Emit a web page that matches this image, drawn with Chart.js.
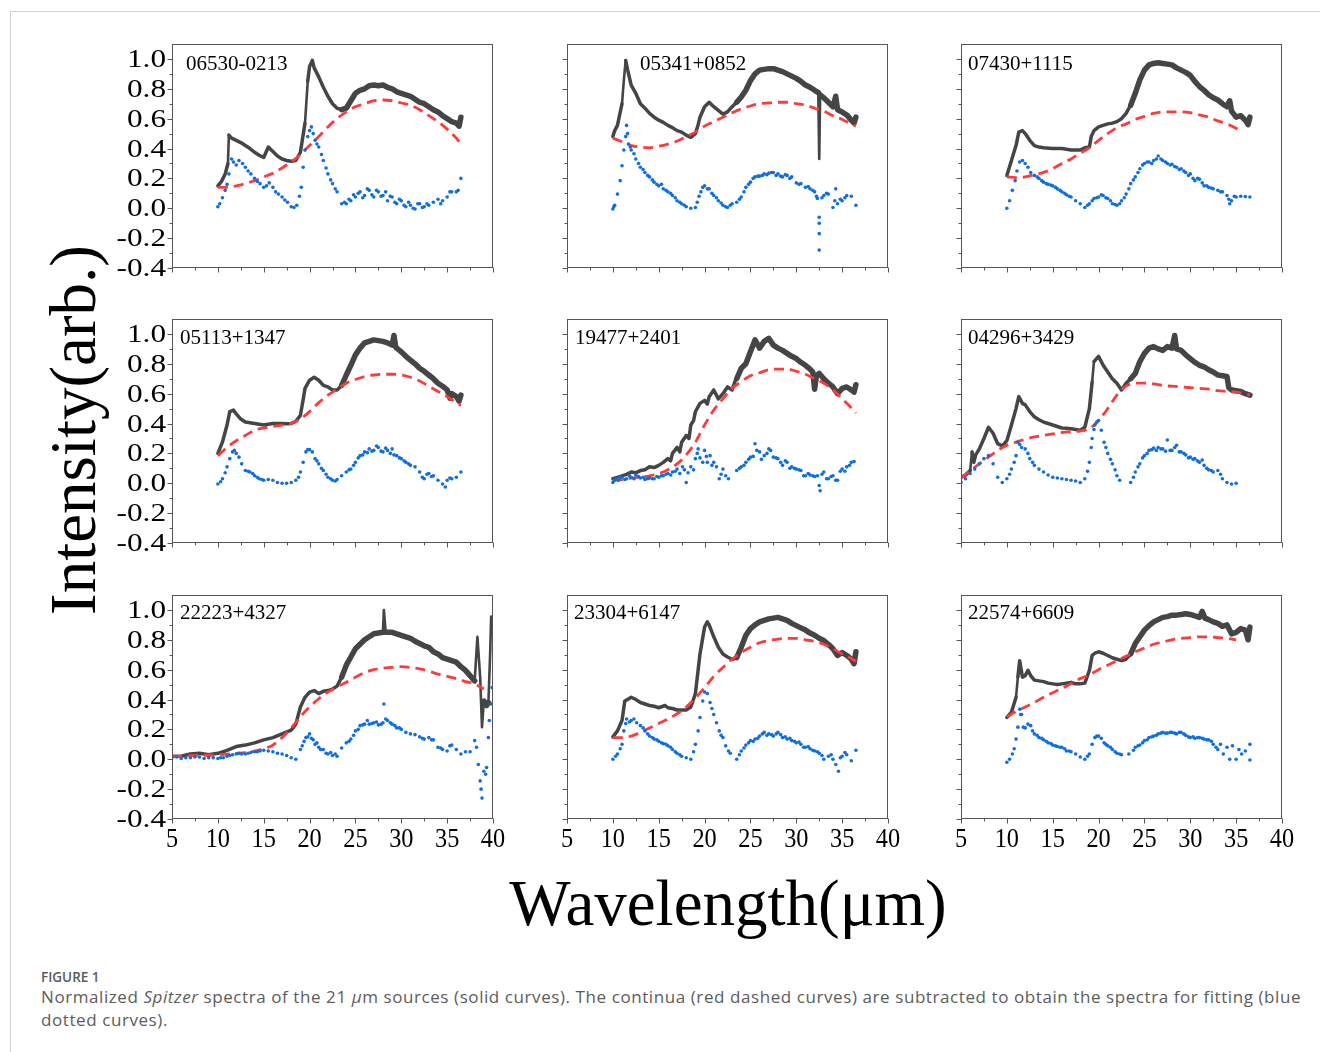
<!DOCTYPE html>
<html>
<head>
<meta charset="utf-8">
<script src="https://cdn.jsdelivr.net/npm/chart.js@4/dist/chart.umd.min.js"></script>
<style>
  html, body { margin:0; padding:0; background:#fff; }
  body { width:1320px; height:1052px; position:relative; overflow:hidden; }
  #frame { position:absolute; left:10px; top:11px; width:1320px; height:1060px; border-top:1px solid #cfcfcf; border-left:1px solid #cfcfcf; }
  canvas { position:absolute; }
  .serif { font-family:"Times New Roman","Liberation Serif",serif; color:#000; white-space:nowrap; position:absolute; }
  #ytitle { font-size:65px; line-height:65px; left:73px; top:430px; transform:translate(-50%,-50%) rotate(-90deg); }
  #xtitle { font-size:65px; line-height:64px; left:728px; top:871px; transform:translateX(-50%); }
  #figlabel { position:absolute; left:41px; top:968px; font-family:"Open Sans","Noto Sans",sans-serif; font-weight:600; font-size:13.5px; color:#5a5a5a; }
  #caption { position:absolute; left:41px; top:985px; width:1278px; font-family:"Open Sans","Noto Sans",sans-serif; font-size:17px; letter-spacing:0.58px; line-height:23px; color:#5c5c5c; white-space:nowrap; }
</style>
</head>
<body>
<div id="frame"></div>
<div id="ytitle" class="serif">Intensity(arb.)</div>
<div id="xtitle" class="serif">Wavelength(μm)</div>
<div id="figlabel">FIGURE 1</div>
<div id="caption">Normalized <i>Spitzer</i> spectra of the 21 <i>μ</i>m sources (solid curves). The continua (red dashed curves) are subtracted to obtain the spectra for fitting (blue<br>dotted curves).</div>
<script>
// ---------------- data ----------------
const panelNames = ['06530-0213','05341+0852','07430+1115','05113+1347','19477+2401','04296+3429','22223+4327','23304+6147','22574+6609'];
const xTicks = [5,10,15,20,25,30,35,40];
const yTicks = [-0.4,-0.2,0.0,0.2,0.4,0.6,0.8,1.0];

// 06530-0213
const p1Solid = [[10,0.15],[10.4,0.18],[10.8,0.23],[11.1,0.30],[11.2,0.49],[11.5,0.47],[12,0.455],[12.5,0.44],[13,0.42],[13.5,0.40],[14,0.375],[14.5,0.355],[15,0.34],[15.5,0.41],[16,0.38],[16.5,0.35],[17,0.33],[17.5,0.32],[18,0.315],[18.5,0.32],[19,0.375],[19.5,0.57],[19.8,0.85],[20,0.95],[20.3,0.99],[20.5,0.94],[21,0.88],[21.5,0.81],[22,0.75],[22.5,0.70],[23,0.67],[23.5,0.66],[24,0.67],[24.5,0.72],[25,0.77],[25.5,0.79],[26,0.80],[26.5,0.82],[27,0.825],[27.5,0.82],[28,0.825],[28.5,0.81],[29,0.80],[29.5,0.78],[30,0.77],[30.5,0.76],[31,0.75],[31.5,0.73],[32,0.71],[32.5,0.70],[33,0.68],[33.5,0.66],[34,0.645],[34.5,0.62],[35,0.60],[35.5,0.58],[36,0.57],[36.3,0.55],[36.5,0.61]];
const p1Dashed = [[10,0.14],[11,0.14],[12,0.15],[13,0.165],[14,0.185],[15,0.21],[16,0.235],[17,0.27],[18,0.31],[19,0.36],[20,0.42],[21,0.48],[22,0.545],[23,0.60],[24,0.645],[25,0.68],[26,0.70],[27,0.72],[28,0.725],[29,0.72],[30,0.705],[31,0.69],[32,0.66],[33,0.62],[34,0.58],[35,0.53],[36,0.47],[36.5,0.43]];
const p1Dotted = [[10,0.01],[10.2,0.03],[10.5,0.07],[10.8,0.12],[11,0.16],[11.2,0.23],[11.5,0.33],[11.7,0.31],[12,0.29],[12.3,0.32],[12.7,0.30],[13,0.275],[13.3,0.25],[13.6,0.23],[14,0.20],[14.3,0.18],[14.6,0.165],[15,0.14],[15.3,0.15],[15.6,0.17],[16,0.14],[16.3,0.11],[16.6,0.095],[17,0.075],[17.3,0.055],[17.6,0.04],[18,0.01],[18.3,0.005],[18.6,0.02],[18.9,0.08],[19.1,0.14],[19.3,0.275],[19.5,0.39],[19.8,0.48],[20,0.52],[20.2,0.545],[20.4,0.50],[20.6,0.455],[20.8,0.43],[21,0.41],[21.3,0.36],[21.5,0.32],[21.8,0.27],[22,0.23],[22.3,0.19],[22.5,0.165],[22.8,0.13],[23,0.11],[23.5,0.03],[23.8,0.04],[24,0.03],[24.3,0.06],[24.5,0.05],[24.8,0.09],[25,0.075],[25.3,0.10],[25.5,0.11],[25.8,0.07],[26,0.085],[26.3,0.13],[26.5,0.12],[26.8,0.09],[27,0.075],[27.3,0.12],[27.5,0.11],[27.8,0.08],[28,0.085],[28.3,0.11],[28.5,0.05],[28.8,0.08],[29,0.075],[29.3,0.04],[29.5,0.03],[29.8,0.06],[30,0.05],[30.3,0.02],[30.5,0.01],[30.8,0.04],[31,0.02],[31.3,0.0],[31.5,-0.005],[31.8,0.03],[32,0.03],[32.3,0.005],[32.5,0.01],[32.8,0.03],[33,0.02],[33.5,0.04],[34,0.06],[34.3,0.03],[34.5,0.05],[35,0.075],[35.3,0.11],[35.5,0.11],[36,0.11],[36.2,0.12],[36.5,0.20]];

// 05341+0852
const p2Solid = [[10,0.48],[10.2,0.52],[10.5,0.555],[11,0.70],[11.2,0.86],[11.4,0.99],[11.6,0.93],[12,0.825],[12.5,0.77],[13,0.70],[13.5,0.67],[14,0.635],[14.5,0.61],[15,0.59],[15.5,0.575],[16,0.555],[16.5,0.54],[17,0.52],[17.5,0.51],[18,0.49],[18.5,0.475],[19,0.50],[19.3,0.56],[19.5,0.61],[20,0.68],[20.5,0.71],[21,0.68],[21.5,0.655],[22,0.63],[22.5,0.645],[23,0.68],[23.5,0.71],[24,0.745],[24.5,0.79],[25,0.855],[25.5,0.90],[26,0.925],[26.5,0.93],[27,0.935],[27.5,0.935],[28,0.925],[28.5,0.915],[29,0.90],[29.5,0.885],[30,0.87],[30.5,0.85],[31,0.825],[31.5,0.81],[32,0.79],[32.4,0.775],[32.5,0.33],[32.6,0.76],[33,0.74],[33.5,0.71],[34,0.68],[34.3,0.75],[34.5,0.66],[35,0.645],[35.5,0.625],[36,0.59],[36.3,0.57],[36.5,0.61]];
const p2Dashed = [[10,0.47],[11,0.445],[12,0.42],[13,0.41],[14,0.405],[15,0.415],[16,0.43],[17,0.45],[18,0.48],[19,0.51],[20,0.55],[21,0.58],[22,0.61],[23,0.64],[24,0.665],[25,0.685],[26,0.70],[27,0.705],[28,0.71],[29,0.71],[30,0.70],[31,0.69],[32,0.67],[33,0.65],[34,0.62],[35,0.595],[36,0.565],[36.5,0.55]];
const p2Dotted = [[10,-0.005],[10.1,0.01],[10.2,0.02],[10.5,0.095],[10.8,0.185],[11,0.285],[11.2,0.39],[11.4,0.48],[11.5,0.555],[11.6,0.50],[11.7,0.43],[11.9,0.41],[12,0.39],[12.3,0.365],[12.5,0.33],[12.8,0.30],[13,0.275],[13.3,0.26],[13.5,0.24],[13.8,0.22],[14,0.21],[14.3,0.19],[14.5,0.175],[14.8,0.16],[15,0.15],[15.3,0.16],[15.5,0.13],[15.8,0.12],[16,0.11],[16.3,0.10],[16.5,0.085],[16.8,0.07],[17,0.05],[17.3,0.04],[17.5,0.03],[17.8,0.02],[18,0.01],[18.5,0.0],[19,0.005],[19.2,0.04],[19.4,0.08],[19.6,0.11],[19.8,0.14],[20,0.15],[20.3,0.13],[20.5,0.13],[20.8,0.10],[21,0.085],[21.3,0.07],[21.5,0.05],[21.8,0.035],[22,0.02],[22.3,0.01],[22.5,0.005],[22.8,0.02],[23,0.03],[23.5,0.04],[23.8,0.06],[24,0.075],[24.3,0.11],[24.5,0.14],[24.8,0.16],[25,0.175],[25.3,0.20],[25.5,0.21],[25.8,0.215],[26,0.215],[26.3,0.22],[26.5,0.23],[26.8,0.225],[27,0.235],[27.3,0.24],[27.5,0.24],[27.8,0.22],[28,0.23],[28.3,0.215],[28.5,0.21],[28.8,0.225],[29,0.22],[29.3,0.20],[29.5,0.21],[30,0.17],[30.3,0.16],[30.5,0.165],[31,0.14],[31.3,0.145],[31.5,0.13],[31.8,0.12],[32,0.11],[32.2,0.08],[32.3,0.065],[32.5,-0.06],[32.5,-0.10],[32.5,-0.17],[32.5,-0.28],[32.8,0.07],[33,0.085],[33.3,0.10],[33.5,0.095],[34,0.005],[34.2,0.05],[34.3,0.13],[34.5,0.03],[34.8,0.06],[35,0.05],[35.3,0.07],[35.5,0.085],[36,0.08],[36.5,0.02]];

// 07430+1115
const p3Solid = [[10,0.22],[10.5,0.32],[11,0.42],[11.3,0.51],[11.7,0.52],[12,0.50],[12.5,0.455],[13,0.42],[13.5,0.41],[14,0.405],[15,0.40],[16,0.40],[17,0.39],[18,0.39],[18.5,0.405],[19,0.41],[19.2,0.48],[19.5,0.52],[20,0.545],[20.5,0.555],[21,0.565],[21.5,0.57],[22,0.58],[22.5,0.60],[23,0.635],[23.5,0.69],[24,0.77],[24.5,0.86],[25,0.925],[25.5,0.96],[26,0.97],[26.5,0.975],[27,0.97],[27.5,0.965],[28,0.96],[28.5,0.94],[29,0.925],[29.5,0.91],[30,0.89],[30.5,0.85],[31,0.815],[31.5,0.79],[32,0.76],[32.5,0.74],[33,0.725],[33.5,0.70],[34,0.68],[34.3,0.72],[34.5,0.65],[35,0.61],[35.5,0.62],[36,0.59],[36.3,0.56],[36.5,0.61]];
const p3Dashed = [[10,0.21],[11,0.205],[12,0.21],[13,0.225],[14,0.24],[15,0.265],[16,0.30],[17,0.33],[18,0.37],[19,0.405],[20,0.455],[21,0.50],[22,0.54],[23,0.565],[24,0.595],[25,0.615],[26,0.635],[27,0.645],[28,0.645],[29,0.645],[30,0.64],[31,0.625],[32,0.61],[33,0.585],[34,0.565],[35,0.535],[35.5,0.52]];
const p3Dotted = [[10,0.0],[10.3,0.05],[10.6,0.12],[10.9,0.185],[11.1,0.25],[11.4,0.31],[11.7,0.32],[12,0.30],[12.3,0.275],[12.6,0.24],[13,0.22],[13.3,0.21],[13.5,0.20],[13.8,0.185],[14,0.175],[14.3,0.165],[14.5,0.16],[14.8,0.155],[15,0.15],[15.3,0.14],[15.5,0.13],[15.8,0.12],[16,0.11],[16.3,0.10],[16.5,0.09],[16.8,0.08],[17,0.075],[17.5,0.05],[18,0.03],[18.5,0.005],[18.8,0.02],[19,0.03],[19.3,0.05],[19.5,0.065],[19.8,0.07],[20,0.075],[20.3,0.09],[20.5,0.085],[20.8,0.07],[21,0.065],[21.3,0.05],[21.5,0.03],[21.8,0.025],[22,0.02],[22.3,0.03],[22.5,0.05],[22.8,0.07],[23,0.095],[23.3,0.13],[23.5,0.165],[23.8,0.19],[24,0.21],[24.3,0.24],[24.5,0.265],[24.8,0.29],[25,0.30],[25.3,0.31],[25.5,0.31],[25.8,0.30],[26,0.32],[26.3,0.33],[26.5,0.35],[26.8,0.33],[27,0.32],[27.3,0.31],[27.5,0.30],[27.8,0.29],[28,0.295],[28.3,0.28],[28.5,0.275],[28.8,0.26],[29,0.265],[29.3,0.25],[29.5,0.24],[29.8,0.22],[30,0.23],[30.3,0.20],[30.5,0.185],[30.8,0.20],[31,0.195],[31.3,0.17],[31.5,0.15],[31.8,0.15],[32,0.14],[32.3,0.135],[32.5,0.13],[33,0.12],[33.3,0.11],[33.5,0.11],[34,0.085],[34.2,0.06],[34.3,0.03],[34.5,0.05],[34.8,0.08],[35,0.075],[35.5,0.08],[36,0.078],[36.5,0.075]];

// 05113+1347
const p4Solid = [[10,0.20],[10.5,0.275],[11,0.39],[11.3,0.48],[11.7,0.49],[12,0.465],[12.5,0.43],[13,0.41],[13.5,0.405],[14,0.40],[14.5,0.395],[15,0.39],[15.5,0.395],[16,0.40],[16.5,0.40],[17,0.40],[17.5,0.398],[18,0.40],[18.5,0.415],[19,0.455],[19.3,0.56],[19.5,0.635],[20,0.69],[20.5,0.71],[21,0.69],[21.5,0.655],[22,0.645],[22.5,0.625],[23,0.625],[23.5,0.655],[24,0.725],[24.5,0.79],[25,0.86],[25.5,0.905],[26,0.94],[26.5,0.95],[27,0.96],[27.5,0.955],[28,0.95],[28.5,0.94],[29,0.925],[29.2,0.99],[29.4,0.91],[30,0.88],[30.5,0.85],[31,0.825],[31.5,0.80],[32,0.77],[32.5,0.75],[33,0.725],[33.5,0.70],[34,0.67],[34.5,0.65],[35,0.625],[35.3,0.57],[35.5,0.60],[36,0.58],[36.3,0.55],[36.5,0.59]];
const p4Dashed = [[10,0.185],[11,0.24],[12,0.285],[13,0.32],[14,0.355],[15,0.37],[16,0.38],[17,0.39],[18,0.40],[19,0.43],[20,0.48],[21,0.54],[22,0.59],[23,0.63],[24,0.67],[25,0.695],[26,0.715],[27,0.725],[28,0.73],[29,0.73],[30,0.725],[31,0.71],[32,0.685],[33,0.65],[34,0.615],[35,0.58],[36,0.54],[36.5,0.52]];
const p4Dotted = [[10,-0.005],[10.3,0.01],[10.5,0.03],[10.8,0.07],[11,0.11],[11.3,0.165],[11.6,0.21],[11.8,0.22],[12,0.20],[12.3,0.175],[12.6,0.13],[13,0.085],[13.3,0.08],[13.5,0.075],[13.8,0.065],[14,0.05],[14.3,0.04],[14.5,0.03],[14.8,0.025],[15,0.02],[15.5,0.025],[16,0.02],[16.5,0.005],[17,0.0],[17.5,0.0],[18,0.005],[18.5,0.02],[18.8,0.04],[19,0.075],[19.3,0.14],[19.6,0.21],[19.8,0.225],[20,0.225],[20.3,0.21],[20.6,0.165],[20.8,0.15],[21,0.13],[21.3,0.10],[21.5,0.085],[21.8,0.06],[22,0.04],[22.3,0.03],[22.5,0.02],[22.8,0.015],[23,0.025],[23.5,0.05],[24,0.075],[24.3,0.09],[24.5,0.095],[24.8,0.12],[25,0.14],[25.3,0.17],[25.5,0.185],[25.8,0.19],[26,0.21],[26.3,0.205],[26.5,0.23],[26.8,0.215],[27,0.22],[27.3,0.25],[27.5,0.24],[27.8,0.215],[28,0.21],[28.3,0.235],[28.5,0.22],[28.8,0.20],[29,0.23],[29.2,0.19],[29.5,0.185],[29.8,0.17],[30,0.165],[30.3,0.15],[30.5,0.14],[30.8,0.13],[31,0.12],[31.5,0.11],[32,0.075],[32.3,0.04],[32.5,0.03],[32.8,0.06],[33,0.065],[33.3,0.045],[33.5,0.05],[34,0.02],[34.5,-0.005],[34.8,-0.025],[35,0.02],[35.3,0.035],[35.5,0.03],[36,0.04],[36.5,0.075]];

// 19477+2401
const p5Solid = [[10,0.03],[10.5,0.04],[11,0.05],[11.5,0.06],[12,0.075],[12.5,0.07],[13,0.085],[13.5,0.09],[14,0.11],[14.5,0.105],[15,0.12],[15.5,0.14],[16,0.165],[16.3,0.15],[16.5,0.20],[17,0.24],[17.3,0.21],[17.5,0.275],[18,0.32],[18.3,0.30],[18.5,0.39],[18.8,0.42],[19,0.48],[19.5,0.535],[20,0.555],[20.3,0.53],[20.5,0.58],[21,0.625],[21.5,0.565],[22,0.60],[22.5,0.645],[23,0.625],[23.3,0.68],[23.5,0.70],[24,0.77],[24.5,0.80],[25,0.88],[25.5,0.96],[26,0.905],[26.5,0.95],[27,0.97],[27.5,0.925],[28,0.905],[28.5,0.89],[29,0.87],[29.5,0.85],[30,0.835],[30.5,0.81],[31,0.79],[31.5,0.765],[31.8,0.745],[32,0.63],[32.2,0.72],[32.5,0.735],[33,0.70],[33.5,0.67],[34,0.645],[34.5,0.60],[35,0.635],[35.5,0.645],[36,0.625],[36.3,0.61],[36.5,0.66]];
const p5Dashed = [[10,0.02],[11,0.025],[12,0.035],[13,0.04],[14,0.05],[15,0.065],[16,0.09],[17,0.13],[18,0.19],[19,0.275],[20,0.39],[21,0.49],[22,0.565],[23,0.635],[24,0.68],[25,0.72],[26,0.74],[27,0.76],[28,0.765],[29,0.765],[30,0.75],[31,0.73],[32,0.70],[33,0.67],[34,0.625],[35,0.565],[36,0.505],[36.5,0.47]];
const p5Dotted = [[10,0.005],[10.2,0.02],[10.4,0.03],[10.6,0.02],[10.8,0.04],[11,0.04],[11.3,0.025],[11.5,0.03],[11.8,0.05],[12,0.04],[12.3,0.03],[12.5,0.055],[12.8,0.045],[13,0.035],[13.3,0.04],[13.5,0.025],[13.8,0.03],[14,0.035],[14.3,0.03],[14.5,0.03],[14.8,0.045],[15,0.04],[15.3,0.05],[15.5,0.05],[15.8,0.06],[16,0.065],[16.3,0.055],[16.5,0.075],[16.8,0.08],[17,0.095],[17.3,0.065],[17.6,0.11],[17.8,0.09],[18,0.005],[18.2,0.07],[18.5,0.11],[18.8,0.09],[19,0.165],[19.2,0.20],[19.3,0.23],[19.5,0.17],[19.8,0.14],[20,0.22],[20.2,0.18],[20.3,0.14],[20.6,0.185],[20.8,0.12],[21,0.14],[21.3,0.11],[21.6,0.03],[21.8,0.06],[22,0.095],[22.3,0.05],[22.6,0.03],[23.5,0.085],[23.8,0.10],[24,0.11],[24.3,0.12],[24.5,0.14],[24.8,0.16],[25,0.175],[25.3,0.18],[25.5,0.265],[25.7,0.22],[26,0.21],[26.2,0.16],[26.5,0.185],[26.8,0.20],[27,0.23],[27.2,0.22],[27.5,0.175],[27.8,0.17],[28,0.165],[28.3,0.14],[28.5,0.12],[28.8,0.15],[29,0.14],[29.3,0.10],[29.5,0.11],[29.8,0.10],[30,0.095],[30.3,0.09],[30.5,0.085],[30.8,0.05],[31,0.05],[31.3,0.065],[31.5,0.055],[31.8,0.05],[32,0.045],[32.3,0.05],[32.5,-0.015],[32.6,-0.05],[32.8,0.06],[33,0.075],[33.3,0.03],[33.5,0.03],[33.8,0.045],[34,0.05],[34.3,0.02],[34.5,0.02],[34.8,0.08],[35,0.095],[35.3,0.08],[35.5,0.11],[35.8,0.12],[36,0.14],[36.3,0.145]];

// 04296+3429
const p6Solid = [[5,0.04],[5.5,0.055],[6,0.085],[6.2,0.21],[6.4,0.14],[6.6,0.19],[7,0.23],[7.5,0.30],[8,0.375],[8.5,0.335],[9,0.265],[9.5,0.25],[10,0.285],[10.5,0.39],[11,0.50],[11.3,0.58],[11.7,0.535],[12,0.525],[12.5,0.48],[13,0.445],[13.5,0.425],[14,0.41],[14.5,0.40],[15,0.39],[15.5,0.38],[16,0.37],[16.5,0.368],[17,0.365],[17.5,0.36],[18,0.355],[18.5,0.375],[19,0.50],[19.3,0.68],[19.5,0.815],[20,0.85],[20.5,0.79],[21,0.745],[21.5,0.70],[22,0.67],[22.5,0.625],[23,0.67],[23.5,0.70],[24,0.735],[24.5,0.815],[25,0.87],[25.5,0.905],[26,0.915],[26.5,0.90],[27,0.89],[27.5,0.915],[28,0.905],[28.3,0.99],[28.5,0.90],[29,0.89],[29.5,0.86],[30,0.835],[30.5,0.81],[31,0.79],[31.5,0.78],[32,0.76],[32.5,0.745],[33,0.725],[33.5,0.72],[34,0.715],[34.2,0.64],[34.5,0.625],[35,0.62],[35.5,0.615],[36,0.60],[36.5,0.59]];
const p6Dashed = [[5,0.035],[6,0.085],[7,0.13],[8,0.175],[9,0.22],[10,0.255],[11,0.275],[12,0.295],[13,0.31],[14,0.32],[15,0.33],[16,0.34],[17,0.345],[18,0.35],[19,0.365],[20,0.42],[21,0.50],[22,0.59],[23,0.65],[24,0.67],[25,0.67],[26,0.665],[27,0.655],[28,0.65],[29,0.645],[30,0.64],[31,0.635],[32,0.63],[33,0.62],[34,0.615],[35,0.61],[36,0.60],[36.5,0.59]];
const p6Dotted = [[5,0.005],[5.5,0.03],[6,0.065],[6.5,0.095],[7,0.13],[7.5,0.165],[8,0.185],[8.5,0.13],[9,0.04],[9.5,0.005],[10,0.03],[10.3,0.06],[10.5,0.095],[10.8,0.14],[11,0.185],[11.2,0.275],[11.4,0.26],[11.6,0.24],[12,0.23],[12.3,0.20],[12.5,0.165],[12.8,0.14],[13,0.12],[13.5,0.095],[14,0.075],[14.5,0.055],[15,0.04],[15.5,0.035],[16,0.03],[16.5,0.025],[17,0.02],[17.5,0.015],[18,0.005],[18.5,0.03],[18.8,0.08],[19,0.14],[19.2,0.24],[19.3,0.30],[19.5,0.36],[19.6,0.39],[19.8,0.41],[20,0.42],[20.3,0.355],[20.6,0.275],[20.8,0.24],[21,0.20],[21.3,0.16],[21.5,0.13],[21.8,0.09],[22,0.05],[22.3,0.02],[23.5,0.005],[23.8,0.04],[24,0.075],[24.3,0.11],[24.5,0.13],[24.8,0.17],[25,0.185],[25.3,0.20],[25.5,0.22],[25.8,0.225],[26,0.235],[26.3,0.22],[26.5,0.24],[26.8,0.23],[27,0.23],[27.3,0.215],[27.5,0.29],[27.8,0.22],[28,0.22],[28.3,0.24],[28.5,0.255],[28.8,0.21],[29,0.21],[29.3,0.20],[29.5,0.19],[29.8,0.17],[30,0.175],[30.3,0.16],[30.5,0.165],[30.8,0.15],[31,0.14],[31.3,0.155],[31.5,0.12],[31.8,0.10],[32,0.09],[32.3,0.085],[32.5,0.075],[33,0.085],[33.3,0.06],[33.5,0.03],[34,0.005],[34.5,-0.005],[35,0.0]];

// 22223+4327
const p7Solid = [[5,0.02],[6,0.02],[7,0.035],[8,0.04],[9,0.03],[10,0.04],[11,0.06],[12,0.085],[13,0.095],[14,0.11],[15,0.13],[16,0.145],[17,0.17],[18,0.195],[18.5,0.235],[19,0.35],[19.5,0.415],[20,0.45],[20.5,0.46],[21,0.44],[21.5,0.455],[22,0.46],[22.5,0.47],[23,0.49],[23.5,0.55],[24,0.63],[24.5,0.685],[25,0.74],[25.5,0.77],[26,0.80],[26.5,0.82],[27,0.84],[27.5,0.845],[28,0.85],[28.1,1.0],[28.3,0.85],[29,0.85],[29.5,0.84],[30,0.83],[30.5,0.82],[31,0.81],[31.5,0.79],[32,0.775],[32.5,0.76],[33,0.75],[33.5,0.72],[34,0.705],[34.5,0.68],[35,0.67],[35.5,0.66],[36,0.65],[36.5,0.62],[37,0.595],[37.5,0.56],[38,0.525],[38.3,0.82],[38.6,0.55],[38.8,0.215],[39,0.39],[39.3,0.36],[39.5,0.38],[39.7,0.73],[39.8,0.955]];
const p7Dashed = [[5,0.018],[6,0.02],[7,0.025],[8,0.027],[9,0.027],[10,0.03],[11,0.035],[12,0.04],[13,0.045],[14,0.055],[15,0.07],[16,0.095],[17,0.145],[18,0.21],[19,0.285],[20,0.35],[21,0.405],[22,0.45],[23,0.485],[24,0.515],[25,0.55],[26,0.58],[27,0.60],[28,0.61],[29,0.615],[30,0.62],[31,0.615],[32,0.605],[33,0.59],[34,0.57],[35,0.555],[36,0.54],[37,0.52],[38,0.505],[39,0.47]];
const p7Dotted = [[5,0.01],[5.5,0.015],[6,0.005],[6.5,0.01],[7,0.01],[7.5,0.015],[8,0.015],[8.5,0.005],[9,0.01],[9.5,0.01],[10,0.005],[10.3,0.01],[10.6,0.01],[11,0.02],[11.3,0.025],[11.6,0.03],[12,0.035],[12.3,0.04],[12.6,0.035],[13,0.035],[13.3,0.04],[13.6,0.045],[14,0.05],[14.3,0.05],[14.6,0.055],[15,0.06],[15.5,0.055],[16,0.05],[16.5,0.04],[17,0.035],[17.5,0.025],[18,0.01],[18.5,0.0],[19,0.065],[19.2,0.09],[19.4,0.12],[19.6,0.145],[19.8,0.15],[20,0.17],[20.2,0.14],[20.4,0.13],[20.6,0.10],[20.8,0.11],[21,0.08],[21.2,0.065],[21.5,0.065],[21.8,0.04],[22,0.035],[22.3,0.045],[22.5,0.025],[22.8,0.035],[23,0.02],[23.5,0.075],[24,0.11],[24.3,0.12],[24.5,0.135],[24.8,0.16],[25,0.19],[25.3,0.20],[25.5,0.225],[25.8,0.23],[26,0.235],[26.3,0.26],[26.5,0.235],[26.8,0.24],[27,0.245],[27.3,0.25],[27.5,0.23],[27.8,0.235],[28,0.245],[28.1,0.37],[28.3,0.27],[28.5,0.26],[28.8,0.245],[29,0.235],[29.3,0.225],[29.5,0.21],[29.8,0.21],[30,0.20],[30.5,0.18],[31,0.17],[31.5,0.165],[32,0.15],[32.3,0.14],[32.5,0.135],[33,0.145],[33.3,0.13],[33.5,0.13],[34,0.08],[34.3,0.075],[34.5,0.065],[35,0.055],[35.3,0.09],[35.5,0.095],[36,0.065],[36.5,0.035],[37,0.05],[37.5,0.05],[38,0.125],[38.2,0.08],[38.4,-0.035],[38.6,-0.145],[38.7,-0.20],[38.8,-0.26],[39,-0.08],[39.2,-0.10],[39.3,-0.055],[39.5,0.145],[39.6,0.26],[39.8,0.37],[39.9,0.48]];

// 23304+6147
const p8Solid = [[10,0.15],[10.5,0.19],[11,0.26],[11.3,0.39],[11.6,0.40],[12,0.415],[12.5,0.40],[13,0.38],[13.5,0.37],[14,0.36],[14.5,0.355],[15,0.345],[15.7,0.36],[16,0.345],[16.5,0.34],[17,0.33],[17.5,0.33],[18,0.33],[18.5,0.35],[19,0.44],[19.5,0.705],[20,0.885],[20.3,0.92],[20.5,0.90],[21,0.82],[21.5,0.75],[22,0.705],[22.5,0.685],[23,0.67],[23.5,0.68],[24,0.75],[24.5,0.83],[25,0.875],[25.5,0.90],[26,0.92],[26.5,0.93],[27,0.94],[27.5,0.945],[28,0.95],[28.5,0.94],[29,0.93],[29.5,0.91],[30,0.895],[30.5,0.88],[31,0.865],[31.5,0.845],[32,0.83],[32.5,0.81],[33,0.795],[33.5,0.77],[34,0.74],[34.5,0.695],[35,0.715],[35.5,0.695],[36,0.67],[36.3,0.64],[36.5,0.72]];
const p8Dashed = [[10,0.145],[11,0.145],[12,0.155],[13,0.18],[14,0.21],[15,0.24],[16,0.27],[17,0.305],[18,0.35],[19,0.41],[20,0.48],[21,0.555],[22,0.615],[23,0.67],[24,0.715],[25,0.75],[26,0.78],[27,0.795],[28,0.805],[29,0.81],[30,0.81],[31,0.80],[32,0.79],[33,0.77],[34,0.74],[35,0.705],[36,0.675],[36.5,0.655]];
const p8Dotted = [[10,0.0],[10.3,0.02],[10.5,0.035],[10.8,0.07],[11,0.10],[11.2,0.19],[11.4,0.24],[11.5,0.27],[11.8,0.25],[12,0.26],[12.3,0.27],[12.6,0.245],[13,0.225],[13.3,0.21],[13.5,0.19],[13.8,0.17],[14,0.155],[14.3,0.145],[14.5,0.135],[14.8,0.13],[15,0.12],[15.3,0.11],[15.5,0.105],[15.8,0.10],[16,0.09],[16.3,0.08],[16.5,0.065],[16.8,0.05],[17,0.04],[17.3,0.03],[17.5,0.02],[18,0.01],[18.5,0.0],[18.8,0.05],[19,0.10],[19.3,0.19],[19.5,0.28],[19.8,0.39],[20,0.45],[20.3,0.44],[20.6,0.38],[20.8,0.34],[21,0.30],[21.3,0.245],[21.6,0.19],[21.8,0.16],[22,0.145],[22.3,0.09],[22.6,0.055],[22.8,0.04],[23.5,0.0],[23.8,0.03],[24,0.055],[24.3,0.075],[24.5,0.095],[24.8,0.11],[25,0.125],[25.3,0.12],[25.5,0.135],[25.8,0.14],[26,0.155],[26.3,0.17],[26.5,0.18],[26.8,0.16],[27,0.17],[27.3,0.165],[27.5,0.155],[27.8,0.17],[28,0.18],[28.3,0.165],[28.5,0.145],[28.8,0.15],[29,0.135],[29.3,0.14],[29.5,0.125],[29.8,0.12],[30,0.11],[30.3,0.115],[30.5,0.10],[30.8,0.08],[31,0.08],[31.3,0.085],[31.5,0.07],[31.8,0.06],[32,0.055],[32.3,0.05],[32.5,0.04],[32.8,0.025],[33,0.0],[33.5,0.02],[33.8,0.03],[34,0.0],[34.3,-0.035],[34.6,-0.08],[34.8,0.01],[35,0.02],[35.3,0.045],[35.5,0.03],[36,-0.01],[36.5,0.06]];

// 22574+6609
const p9Solid = [[10,0.28],[10.5,0.315],[11,0.415],[11.2,0.55],[11.4,0.66],[11.7,0.55],[12,0.56],[12.3,0.595],[12.6,0.56],[13,0.53],[13.5,0.525],[14,0.52],[14.5,0.51],[15,0.505],[15.5,0.50],[16,0.505],[16.5,0.51],[17,0.515],[17.5,0.505],[18,0.505],[18.5,0.51],[19,0.595],[19.3,0.695],[19.6,0.71],[20,0.72],[20.5,0.71],[21,0.695],[21.5,0.68],[22,0.67],[22.5,0.66],[23,0.67],[23.5,0.705],[24,0.775],[24.5,0.82],[25,0.865],[25.5,0.895],[26,0.92],[26.5,0.935],[27,0.95],[27.5,0.955],[28,0.965],[28.5,0.965],[29,0.97],[29.5,0.975],[30,0.97],[30.5,0.96],[31,0.95],[31.3,0.99],[31.6,0.945],[32,0.935],[32.5,0.92],[33,0.91],[33.5,0.89],[34,0.90],[34.5,0.84],[35,0.85],[35.5,0.875],[36,0.865],[36.3,0.80],[36.5,0.885]];
const p9Dashed = [[10,0.285],[11,0.32],[12,0.35],[13,0.38],[14,0.415],[15,0.445],[16,0.475],[17,0.505],[18,0.54],[19,0.565],[20,0.60],[21,0.63],[22,0.66],[23,0.69],[24,0.72],[25,0.745],[26,0.77],[27,0.785],[28,0.80],[29,0.81],[30,0.815],[31,0.82],[32,0.82],[33,0.815],[34,0.81],[35,0.80]];
const p9Dotted = [[10,-0.02],[10.3,0.0],[10.6,0.035],[10.8,0.07],[11,0.135],[11.2,0.215],[11.4,0.335],[11.5,0.30],[11.6,0.30],[11.8,0.215],[12,0.21],[12.3,0.235],[12.6,0.225],[12.8,0.19],[13,0.17],[13.3,0.16],[13.5,0.145],[13.8,0.14],[14,0.13],[14.3,0.12],[14.5,0.11],[14.8,0.105],[15,0.095],[15.3,0.09],[15.5,0.085],[15.8,0.08],[16,0.08],[16.3,0.07],[16.5,0.055],[16.8,0.055],[17,0.05],[17.5,0.035],[18,0.015],[18.5,0.0],[18.8,0.02],[19,0.035],[19.3,0.10],[19.6,0.145],[19.8,0.155],[20,0.155],[20.3,0.14],[20.6,0.11],[20.8,0.10],[21,0.09],[21.3,0.08],[21.5,0.065],[21.8,0.05],[22,0.04],[22.3,0.035],[22.5,0.03],[23.3,0.035],[23.8,0.06],[24,0.08],[24.3,0.09],[24.5,0.095],[24.8,0.11],[25,0.125],[25.3,0.13],[25.5,0.145],[25.8,0.15],[26,0.155],[26.3,0.16],[26.5,0.17],[26.8,0.175],[27,0.18],[27.3,0.175],[27.5,0.175],[27.8,0.18],[28,0.18],[28.3,0.175],[28.5,0.17],[28.8,0.18],[29,0.18],[29.3,0.17],[29.5,0.16],[29.8,0.15],[30,0.145],[30.3,0.15],[30.5,0.14],[30.8,0.145],[31,0.145],[31.3,0.14],[31.5,0.135],[31.8,0.13],[32,0.13],[32.3,0.12],[32.5,0.10],[32.8,0.08],[33,0.065],[33.3,0.10],[33.6,0.035],[34,0.08],[34.3,0.0],[34.6,0.09],[35,0.0],[35.3,0.065],[35.6,0.035],[36,0.055],[36.5,0.10],[36.5,-0.005]];

const solidSeries  = [p1Solid,p2Solid,p3Solid,p4Solid,p5Solid,p6Solid,p7Solid,p8Solid,p9Solid];
const dashedSeries = [p1Dashed,p2Dashed,p3Dashed,p4Dashed,p5Dashed,p6Dashed,p7Dashed,p8Dashed,p9Dashed];
const dottedSeries = [p1Dotted,p2Dotted,p3Dotted,p4Dotted,p5Dotted,p6Dotted,p7Dotted,p8Dotted,p9Dotted];

// ---------------- layout ----------------
const colLeft = [172, 567, 961];
const rowTop = [44, 319, 595];
const plotW = 321, plotH = 224;
const padL = 90, padT = 10, padR = 12, padB = 45;
const labelDx = [14, 73, 7, 8, 8, 7, 8, 7, 7];
const labelDy = [26, 26, 26, 25, 25, 25, 24, 24, 24];

const SERIF = '"Times New Roman","Liberation Serif",serif';

const decoPlugin = {
  id: 'panelDeco',
  afterDraw(chart, args, opts) {
    const ctx = chart.ctx;
    const a = chart.chartArea;
    const xs = chart.scales.x, ys = chart.scales.y;
    const L = Math.round(a.left) + 0.5, T = Math.round(a.top) + 0.5;
    const R = Math.round(a.right) - 0.5, B = Math.round(a.bottom) - 0.5;
    ctx.save();
    ctx.strokeStyle = '#555';
    ctx.lineWidth = 1;
    ctx.strokeRect(L, T, R - L, B - T);
    ctx.beginPath();
    for (let i = 0; i < xTicks.length; i++) {
      const px = Math.round(xs.getPixelForValue(xTicks[i])) + 0.5;
      ctx.moveTo(px, B); ctx.lineTo(px, B + 5);
      if (i < xTicks.length - 1) {
        const mx = Math.round(xs.getPixelForValue((xTicks[i] + xTicks[i + 1]) / 2)) + 0.5;
        ctx.moveTo(mx, B); ctx.lineTo(mx, B + 3);
      }
    }
    for (let i = 0; i < yTicks.length; i++) {
      const py = Math.round(ys.getPixelForValue(yTicks[i])) + 0.5;
      ctx.moveTo(L, py); ctx.lineTo(L - 5, py);
      if (i < yTicks.length - 1) {
        const my = Math.round(ys.getPixelForValue((yTicks[i] + yTicks[i + 1]) / 2)) + 0.5;
        ctx.moveTo(L, my); ctx.lineTo(L - 3, my);
      }
    }
    ctx.stroke();
    ctx.fillStyle = '#000';
    if (opts.showY) {
      ctx.font = '25px ' + SERIF;
      ctx.textAlign = 'right';
      ctx.textBaseline = 'middle';
      for (const v of yTicks) {
        ctx.save();
        ctx.translate(a.left - 6, ys.getPixelForValue(v) + 1.5);
        ctx.scale(1.25, 1);
        ctx.fillText(v.toFixed(1), 0, 0);
        ctx.restore();
      }
    }
    if (opts.showX) {
      ctx.font = '27px ' + SERIF;
      ctx.textAlign = 'center';
      ctx.textBaseline = 'middle';
      for (const v of xTicks) {
        ctx.save();
        ctx.translate(xs.getPixelForValue(v), a.bottom + 21);
        ctx.scale(0.9, 1);
        ctx.fillText(String(v), 0, 0);
        ctx.restore();
      }
    }
    ctx.font = '21px ' + SERIF;
    ctx.textAlign = 'left';
    ctx.textBaseline = 'alphabetic';
    ctx.fillText(opts.name, a.left + opts.dx, a.top + opts.dy);
    ctx.restore();
  }
};

const toPts = arr => arr.map(p => ({ x: p[0], y: p[1] }));

// the noisy band of the spectrum is wider at long wavelengths; steep jumps are thin strokes
function solidWidth(c) {
  const dy = Math.abs(c.p1.parsed.y - c.p0.parsed.y);
  const dx = Math.abs(c.p1.parsed.x - c.p0.parsed.x);
  if (dy / Math.max(dx, 0.05) > 0.6) return 2.6;
  return c.p0.parsed.x >= 23.5 ? 5.5 : 3.5;
}

for (let i = 0; i < 9; i++) {
  const col = i % 3, row = Math.floor(i / 3);
  const cw = padL + plotW + padR, ch = padT + plotH + padB;
  const cv = document.createElement('canvas');
  cv.width = cw; cv.height = ch;
  cv.style.left = (colLeft[col] - padL) + 'px';
  cv.style.top = (rowTop[row] - padT) + 'px';
  cv.style.width = cw + 'px'; cv.style.height = ch + 'px';
  document.body.appendChild(cv);
  new Chart(cv, {
    type: 'scatter',
    data: {
      datasets: [
        { data: toPts(dottedSeries[i]), showLine: false, pointRadius: 1.8, pointBackgroundColor: '#0f6ee0', pointBorderWidth: 0 },
        { data: toPts(dashedSeries[i]), showLine: true, borderColor: '#ff3a3a', borderWidth: 2.8, borderDash: [10, 6], pointRadius: 0, cubicInterpolationMode: 'monotone', fill: false },
        { data: toPts(solidSeries[i]), showLine: true, borderColor: '#454545', borderWidth: 3.5, pointRadius: 0,
          borderJoinStyle: 'round', borderCapStyle: 'round', tension: 0, fill: false,
          segment: { borderWidth: solidWidth } }
      ]
    },
    options: {
      responsive: false, animation: false, devicePixelRatio: 1,
      layout: { padding: { left: 0, top: padT, right: padR, bottom: 0 } },
      plugins: {
        legend: { display: false }, tooltip: { enabled: false },
        panelDeco: { name: panelNames[i], dx: labelDx[i], dy: labelDy[i], showX: row === 2, showY: col === 0 }
      },
      scales: {
        x: { type: 'linear', min: 5, max: 40, grid: { display: false }, border: { display: false }, ticks: { display: false },
             afterFit(s) { s.height = padB; } },
        y: { type: 'linear', min: -0.4, max: 1.1, grid: { display: false }, border: { display: false }, ticks: { display: false },
             afterFit(s) { s.width = padL; } }
      }
    },
    plugins: [decoPlugin]
  });
}
</script>
</body>
</html>
